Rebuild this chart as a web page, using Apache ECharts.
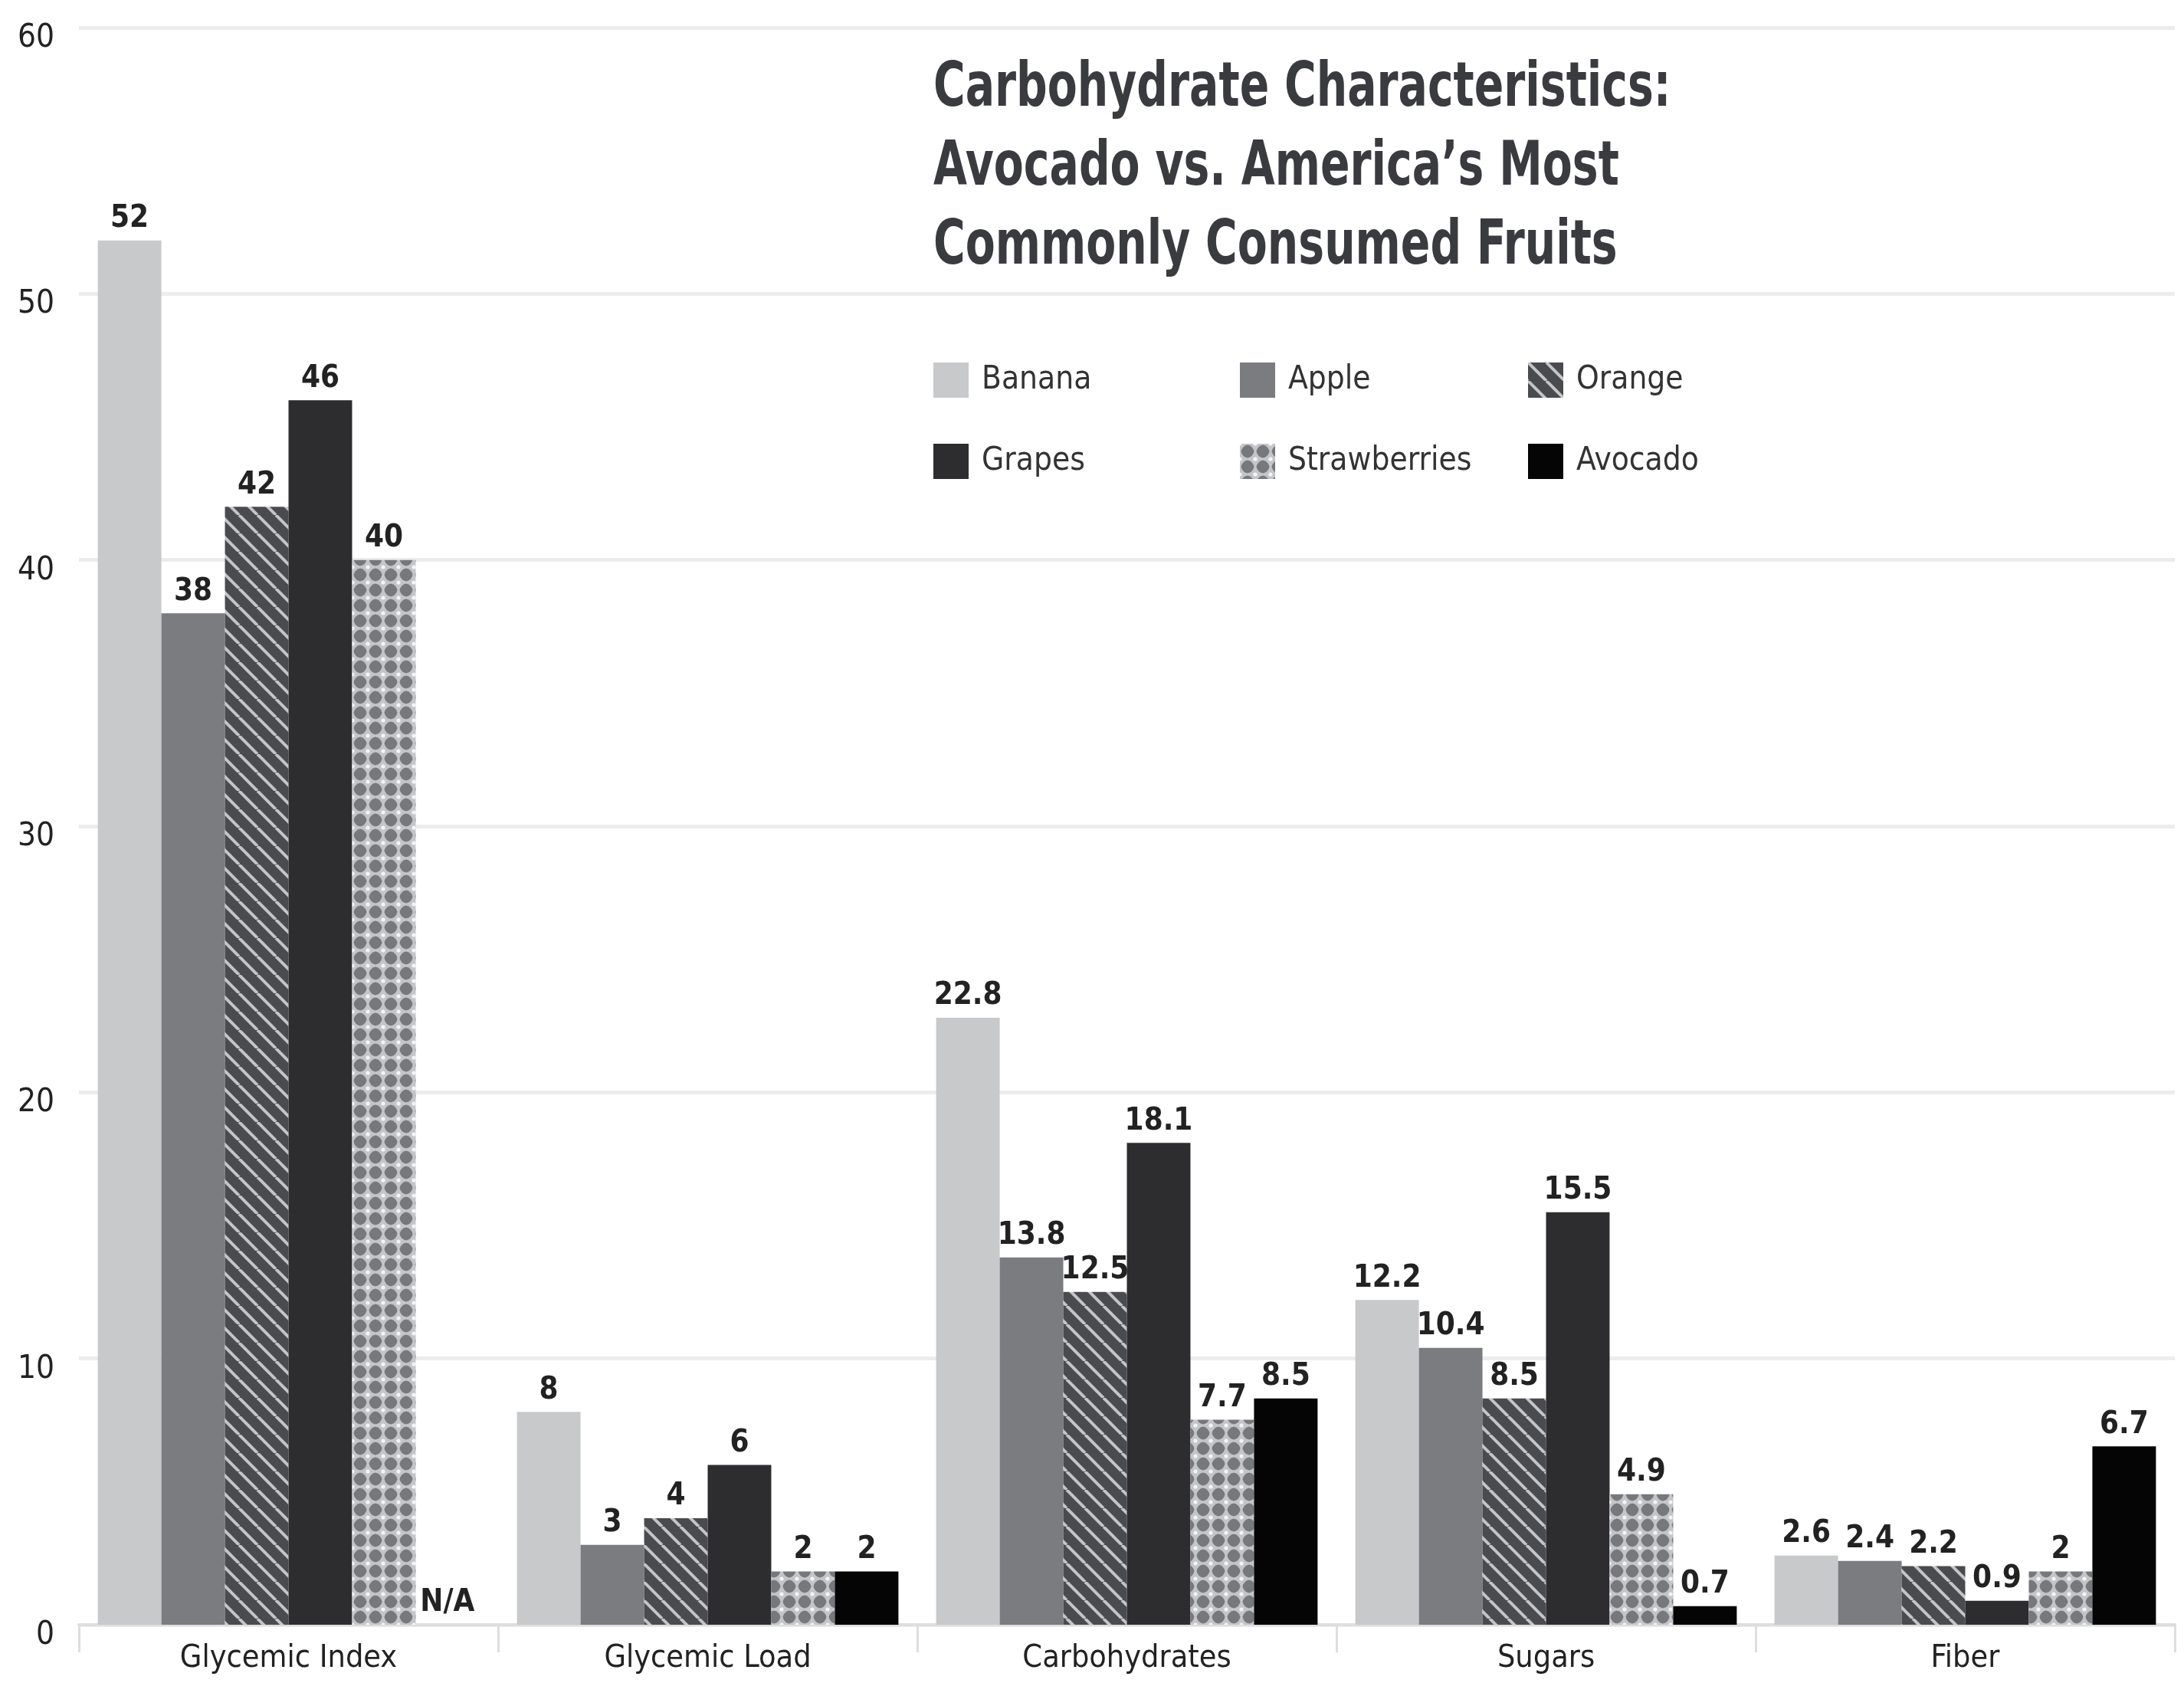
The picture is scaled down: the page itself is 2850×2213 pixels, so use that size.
<!DOCTYPE html>
<html>
<head>
<meta charset="utf-8">
<script src="https://cdn.jsdelivr.net/npm/echarts@6/dist/echarts.min.js"></script>
<style>
html,body{margin:0;padding:0;background:#fff;}
#chart{width:2850px;height:2213px;}
</style>
</head>
<body>
<div id="chart"></div>
<script>
const categories = ['Glycemic Index', 'Glycemic Load', 'Carbohydrates', 'Sugars', 'Fiber'];
const seriesNames = ['Banana', 'Apple', 'Orange', 'Grapes', 'Strawberries', 'Avocado'];
const banana = [52, 8, 22.8, 12.2, 2.6];
const apple = [38, 3, 13.8, 10.4, 2.4];
const orange = [42, 4, 12.5, 8.5, 2.2];
const grapes = [46, 6, 18.1, 15.5, 0.9];
const strawberries = [40, 2, 7.7, 4.9, 2];
const avocado = [null, 2, 8.5, 0.7, 6.7];
const yTicks = [0, 10, 20, 30, 40, 50, 60];
const titleLines = ['Carbohydrate Characteristics:', 'Avocado vs. America\u2019s Most', 'Commonly Consumed Fruits'];

const FONT = "'DejaVu Sans Condensed', sans-serif";

function stripePattern() {
  const s = 24;
  const c = document.createElement('canvas');
  c.width = s; c.height = s;
  const g = c.getContext('2d');
  g.fillStyle = '#4a4b4f';
  g.fillRect(0, 0, s, s);
  g.strokeStyle = '#c4c5c8';
  g.lineWidth = 4;
  for (let k = -1; k <= 1; k++) {
    g.beginPath();
    g.moveTo(k * s, 0);
    g.lineTo(k * s + s, s);
    g.stroke();
  }
  return c;
}
function latticePattern() {
  const s = 20;
  const c = document.createElement('canvas');
  c.width = s; c.height = s;
  const g = c.getContext('2d');
  g.fillStyle = '#c4c5c8';
  g.fillRect(0, 0, s, s);
  g.fillStyle = '#77787c';
  g.beginPath();
  g.moveTo(s / 2, 1.5);
  g.quadraticCurveTo(s - 3, 3, s - 1.5, s / 2);
  g.quadraticCurveTo(s - 3, s - 3, s / 2, s - 1.5);
  g.quadraticCurveTo(3, s - 3, 1.5, s / 2);
  g.quadraticCurveTo(3, 3, s / 2, 1.5);
  g.fill();
  g.fillStyle = '#f4f4f4';
  [[0,0],[s,0],[0,s],[s,s]].forEach(p => {
    g.beginPath(); g.arc(p[0], p[1], 2.6, 0, Math.PI * 2); g.fill();
  });
  return c;
}

const colors = [
  '#c8c9cb',
  '#7b7c80',
  { image: stripePattern(), repeat: 'repeat' },
  '#2d2d30',
  { image: latticePattern(), repeat: 'repeat' },
  '#050505'
];
const values = [banana, apple, orange, grapes, strawberries, avocado];

const series = seriesNames.map((name, i) => ({
  name: name,
  type: 'bar',
  barGap: '0%',
  barCategoryGap: '9%',
  itemStyle: { color: colors[i] },
  label: {
    show: true,
    position: 'top',
    distance: 8,
    fontFamily: FONT,
    fontSize: 40,
    fontWeight: 'bold',
    color: '#222',
    formatter: p => (p.data && p.data.na) ? 'N/A' : String(p.value)
  },
  data: values[i].map(v => v === null ? { value: 0, na: true } : v)
}));

const legendCols = [[0, 3], [1, 4], [2, 5]];
const legendLeft = [1218, 1618, 1994];
const legends = legendCols.map((col, k) => ({
  orient: 'vertical',
  left: legendLeft[k],
  top: 473,
  padding: 0,
  itemWidth: 46,
  itemHeight: 46,
  itemGap: 60,
  selectedMode: false,
  icon: 'rect',
  textStyle: { fontFamily: FONT, fontSize: 42, color: '#333', padding: [0, 0, 0, 12] },
  data: col.map(i => seriesNames[i])
}));

const chart = echarts.init(document.getElementById('chart'), null, { renderer: 'canvas' });
chart.setOption({
  backgroundColor: '#ffffff',
  animation: false,
  legend: legends,
  grid: { left: 103, right: 12, top: 36, bottom: 93, containLabel: false },
  xAxis: {
    type: 'category',
    data: categories,
    axisLine: { show: true, lineStyle: { color: '#dedede', width: 4 } },
    axisTick: { show: true, length: 36, lineStyle: { color: '#dedede', width: 3 } },
    axisLabel: { margin: 24, fontFamily: FONT, fontSize: 41, color: '#222' }
  },
  yAxis: {
    type: 'value',
    min: yTicks[0],
    max: yTicks[yTicks.length - 1],
    interval: yTicks[1] - yTicks[0],
    axisLine: { show: false },
    axisTick: { show: false },
    splitLine: { lineStyle: { color: '#ececec', width: 5 } },
    axisLabel: { margin: 32, fontFamily: FONT, fontSize: 42, color: '#222', verticalAlign: 'top', lineHeight: 28 }
  },
  graphic: [{
    type: 'text',
    x: 1218,
    y: 66,
    scaleX: 0.81,
    scaleY: 1.02,
    style: {
      text: titleLines.join('\n'),
      font: 'bold 78px ' + FONT,
      lineHeight: 101,
      fill: '#3a3b3f',
      verticalAlign: 'top'
    }
  }],
  series: series
});
</script>
</body>
</html>
